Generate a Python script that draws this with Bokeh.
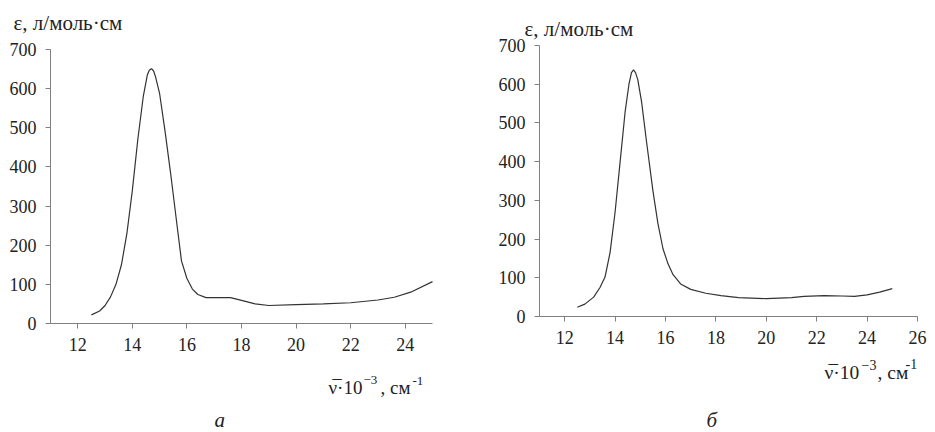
from bokeh.plotting import figure
from bokeh.layouts import row
from bokeh.models import Range1d, FixedTicker, Label
from bokeh.embed import file_html
from bokeh.resources import INLINE

# ---- data ----
a_x = [12.5, 12.8, 13.0, 13.2, 13.4, 13.6, 13.8, 14.0, 14.2, 14.4, 14.55, 14.62, 14.7,
       14.78, 14.85, 15.0, 15.2, 15.4, 15.6, 15.8, 16.0, 16.2, 16.4, 16.7, 17.0, 17.6,
       18.0, 18.5, 19.0, 20.0, 21.0, 22.0, 23.0, 23.6, 24.2, 25.0]
a_y = [22, 32, 46, 68, 100, 150, 230, 340, 470, 580, 635, 647, 651,
       645, 630, 587, 490, 385, 272, 160, 115, 88, 74, 66, 66, 66,
       59, 50, 46, 48, 50, 53, 60, 67, 80, 107]

b_x = [12.5, 12.8, 13.15, 13.4, 13.6, 13.8, 14.0, 14.2, 14.4, 14.55, 14.65, 14.73, 14.81,
       14.9, 15.05, 15.25, 15.5, 15.7, 15.9, 16.1, 16.3, 16.6, 17.0, 17.6, 18.2, 18.9,
       20.0, 21.0, 21.5, 22.3, 23.0, 23.5, 24.0, 24.5, 25.0]
b_y = [24, 32, 50, 75, 102, 165, 270, 400, 530, 600, 630, 637, 630,
       612, 555, 450, 325, 240, 175, 136, 108, 84, 70, 60, 54, 49,
       46, 49, 52, 54, 53, 52, 56, 63, 72]

y_ticks = [0, 100, 200, 300, 400, 500, 600, 700]
a_x_ticks = [12, 14, 16, 18, 20, 22, 24]
b_x_ticks = [12, 14, 16, 18, 20, 22, 24, 26]
a_x_bounds = (11, 25)
b_x_bounds = (11, 26)
y_bounds = (0, 700)

y_title = "ε, л/моль·см"
x_title_main = "ν\u0305·10"
x_title_sup1 = "−3"
x_title_mid = ", см"
x_title_sup2 = "-1"
panel_a = "а"
panel_b = "б"

FONT = "Liberation Serif"
TXT = "#222222"
AXC = "#808080"
H = 432


def make_fig(width, xb, xticks, ax_left, ax_right, ax_top, ax_bottom):
    # axes are pinned inside a frame that fills the whole canvas
    kx = (xb[1] - xb[0]) / (ax_right - ax_left)      # data units per px
    ky = (y_bounds[1] - y_bounds[0]) / (ax_bottom - ax_top)
    xr = Range1d(xb[0] - ax_left * kx, xb[0] + (width - ax_left) * kx)
    yr = Range1d(y_bounds[0] - (H - ax_bottom) * ky, y_bounds[0] + ax_bottom * ky)
    p = figure(output_backend="svg", toolbar_location=None, title=None,
               frame_width=width, frame_height=H,
               min_border=0, x_range=xr, y_range=yr)
    p.outline_line_color = None
    p.grid.visible = False
    p.background_fill_color = "white"
    p.border_fill_color = "white"
    for ax in (p.xaxis[0], p.yaxis[0]):
        ax.axis_line_color = AXC
        ax.axis_line_width = 1
        ax.major_tick_line_color = AXC
        ax.major_tick_in = 0
        ax.major_tick_out = 5
        ax.minor_tick_line_color = None
        ax.major_label_text_font = FONT
        ax.major_label_text_font_size = "18px"
        ax.major_label_text_color = TXT
        ax.major_label_standoff = 9
    p.xaxis.ticker = FixedTicker(ticks=xticks)
    p.yaxis.ticker = FixedTicker(ticks=y_ticks)
    p.xaxis.fixed_location = y_bounds[0]
    p.yaxis.fixed_location = xb[0]
    p.xaxis.bounds = xb
    p.yaxis.bounds = y_bounds
    return p


def add_text(p, x0, px, py, text, size, style="normal"):
    p.add_layout(Label(x=px - x0, y=H - py, x_units="screen", y_units="screen",
                       text=text, text_font=FONT, text_font_size=f"{size}px",
                       text_font_style=style, text_color=TXT,
                       text_baseline="alphabetic", text_align="left"))


# ---- left panel (a) ----
p1 = make_fig(465, a_x_bounds, a_x_ticks, 50, 432, 49, 323)
p1.line(a_x, a_y, line_color="#333333", line_width=1.2)
add_text(p1, 0, 13, 22, y_title, 21)
add_text(p1, 0, 328, 387, x_title_main, 19)
add_text(p1, 0, 363, 379, x_title_sup1, 13)
add_text(p1, 0, 380, 387, x_title_mid, 19)
add_text(p1, 0, 412, 380, x_title_sup2, 13)
add_text(p1, 0, 214, 419, panel_a, 21, "italic")

# ---- right panel (b) ----
p2 = make_fig(470, b_x_bounds, b_x_ticks, 539 - 465, 917 - 465, 45, 316)
p2.line(b_x, b_y, line_color="#333333", line_width=1.2)
add_text(p2, 465, 524, 28, y_title, 21)
add_text(p2, 465, 824, 372, x_title_main, 19.5)
add_text(p2, 465, 861, 364, x_title_sup1, 14)
add_text(p2, 465, 877, 372, x_title_mid, 19.5)
add_text(p2, 465, 905, 363, x_title_sup2, 14)
add_text(p2, 465, 706, 419, panel_b, 21, "italic")

layout = row(p1, p2, spacing=0)
open("out.html", "w").write(file_html(layout, INLINE))
